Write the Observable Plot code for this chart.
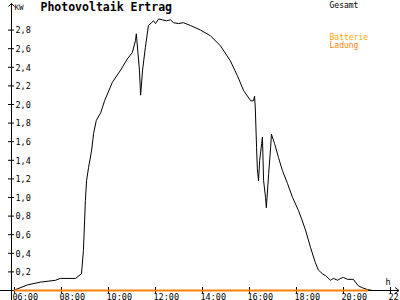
<!DOCTYPE html>
<html>
<head>
<meta charset="utf-8">
<script src="https://cdn.jsdelivr.net/npm/d3@7"></script>
<script src="https://cdn.jsdelivr.net/npm/@observablehq/plot@0.6"></script>
<style>
  html, body { margin: 0; padding: 0; background: #fff; }
  #chart svg { display: block; }
</style>
</head>
<body>
<div id="chart"></div>
<script>
// Gesamt (total PV output, kW)
const gesamtTimes = ["06:03","06:33","07:06","07:45","07:57","08:36","08:51","08:56","08:59","09:01","09:04","09:09","09:17","09:22","09:29","09:40","09:50","10:10","10:31","10:48","11:01","11:09","11:11","11:19","11:22","11:27","11:34","11:42","11:50","11:55","12:00","12:08","12:18","12:28","12:38","12:46","12:59","13:11","13:29","13:55","14:20","14:46","15:11","15:29","15:45","16:03","16:10","16:13","16:15","16:18","16:20","16:23","16:26","16:31","16:33","16:36","16:41","16:43","16:49","16:54","16:56","17:04","17:14","17:24","17:37","17:50","18:05","18:13","18:23","18:36","18:48","18:56","19:06","19:14","19:27","19:34","19:45","19:52","20:00","20:10","20:25","20:38","20:48","21:01","21:14"];
const gesamtValues = [0.01,0.06,0.09,0.11,0.13,0.13,0.18,0.43,0.75,0.97,1.18,1.32,1.51,1.69,1.83,1.91,2.04,2.24,2.37,2.49,2.56,2.69,2.76,2.37,2.10,2.37,2.61,2.85,2.88,2.90,2.87,2.92,2.91,2.90,2.91,2.88,2.87,2.88,2.85,2.80,2.74,2.63,2.47,2.31,2.15,2.04,2.04,2.09,1.94,1.54,1.31,1.18,1.40,1.58,1.65,1.18,1.00,0.89,1.26,1.54,1.68,1.58,1.43,1.29,1.15,1.00,0.86,0.77,0.65,0.46,0.30,0.22,0.18,0.16,0.11,0.13,0.11,0.13,0.14,0.12,0.12,0.05,0.03,0.01,0.00];

// Batterie Ladung (battery charging, kW)
const ladungTimes = ["06:00","21:01"];
const ladungValues = [0, 0];

// Axis ticks
const xTicks = [6, 8, 10, 12, 14, 16, 18, 20, 22];
const yTicks = [0.2, 0.4, 0.6, 0.8, 1.0, 1.2, 1.4, 1.6, 1.8, 2.0, 2.2, 2.4, 2.6, 2.8];
const xDomain = [6, 22];
const yDomain = [0, 3];

const title = "Photovoltaik Ertrag";
const unitY = "KW";
const unitX = "h";
const legendGesamt = "Gesamt";
const legendLadung1 = "Batterie";
const legendLadung2 = "Ladung";

const toHours = s => { const [h, m] = s.split(":").map(Number); return h + m / 60; };
const gesamt = gesamtTimes.map((t, i) => ({t: toHours(t), v: gesamtValues[i]}));
const ladung = ladungTimes.map((t, i) => ({t: toHours(t), v: ladungValues[i]}));

const W = 400, H = 300;
const mL = 14, mR = 10, mT = 11, mB = 10;
const frameW = W - mL - mR, frameH = H - mT - mB;
const font = "DejaVu Sans Mono, monospace";
const orange = "#ff8000";

const pad = n => String(n).padStart(2, "0");

const arrows = (index, scales, values, dims) => {
  const g = d3.create("svg:g");
  const ax = dims.marginLeft - 3 + 0.5;
  const ay = dims.height - dims.marginBottom + 0.5;
  g.append("path")
    .attr("d", `M${ax - 3},${6.5} L${ax},${3.5} L${ax + 3},${6.5}`)
    .attr("fill", "none").attr("stroke", "#000");
  g.append("path")
    .attr("d", `M${dims.width - 5},${ay - 3} L${dims.width - 1},${ay} L${dims.width - 5},${ay + 3}`)
    .attr("fill", "none").attr("stroke", "#000");
  return g.node();
};

const chart = Plot.plot({
  width: W, height: H,
  marginLeft: mL, marginRight: mR, marginTop: mT, marginBottom: mB,
  style: {fontFamily: font, background: "#fff", color: "#000"},
  x: {domain: xDomain, axis: null},
  y: {domain: yDomain, axis: null},
  marks: [
    // axis lines
    Plot.ruleY([0], {insetLeft: -mL, insetRight: -(mR - 1), stroke: "#000"}),
    Plot.ruleX([xDomain[0]], {dx: -3, insetTop: -(mT - 3), insetBottom: -mB, stroke: "#000"}),
    // ticks
    Plot.ruleY(yTicks, {y: d => d, insetLeft: -6, insetRight: frameW, stroke: "#000"}),
    Plot.ruleX(xTicks, {x: d => d, insetTop: frameH - 3, insetBottom: -3, stroke: "#000"}),
    arrows,
    // tick labels
    Plot.text(yTicks, {y: d => d, frameAnchor: "left", dx: 1, dy: 0.5, textAnchor: "start", lineAnchor: "middle",
      text: d => d.toFixed(1).replace(".", ","), fontSize: 8.5, fill: "#000"}),
    Plot.text(xTicks, {x: d => d, frameAnchor: "bottom", dx: -2, dy: 9, textAnchor: "start", lineAnchor: "bottom",
      text: d => pad(d) + ":00", fontSize: 8.5, fill: "#000"}),
    // data
    Plot.line(gesamt, {x: "t", y: "v", stroke: "#000", strokeWidth: 1}),
    Plot.line(ladung, {x: "t", y: "v", stroke: orange, strokeWidth: 2}),
    // texts
    Plot.text([title], {frameAnchor: "top-left", dx: 26, dy: -1, textAnchor: "start", lineAnchor: "bottom",
      fontSize: 11.5, fontWeight: "bold", fill: "#000"}),
    Plot.text([unitY], {frameAnchor: "top-left", dx: 0, dy: -2, textAnchor: "start", lineAnchor: "bottom",
      fontSize: 7.5, fill: "#000"}),
    Plot.text([unitX], {frameAnchor: "bottom-left", dx: 371, dy: -6, textAnchor: "start", lineAnchor: "bottom",
      fontSize: 8.5, fill: "#000"}),
    Plot.text([legendGesamt], {frameAnchor: "top-left", dx: 315, dy: -4, textAnchor: "start", lineAnchor: "bottom",
      fontSize: 8, fill: "#000"}),
    Plot.text([legendLadung1], {frameAnchor: "top-left", dx: 315, dy: 28, textAnchor: "start", lineAnchor: "bottom",
      fontSize: 8, fill: "#ffa500"}),
    Plot.text([legendLadung2], {frameAnchor: "top-left", dx: 315, dy: 36, textAnchor: "start", lineAnchor: "bottom",
      fontSize: 8, fill: orange})
  ]
});
document.getElementById("chart").appendChild(chart);
</script>
</body>
</html>
